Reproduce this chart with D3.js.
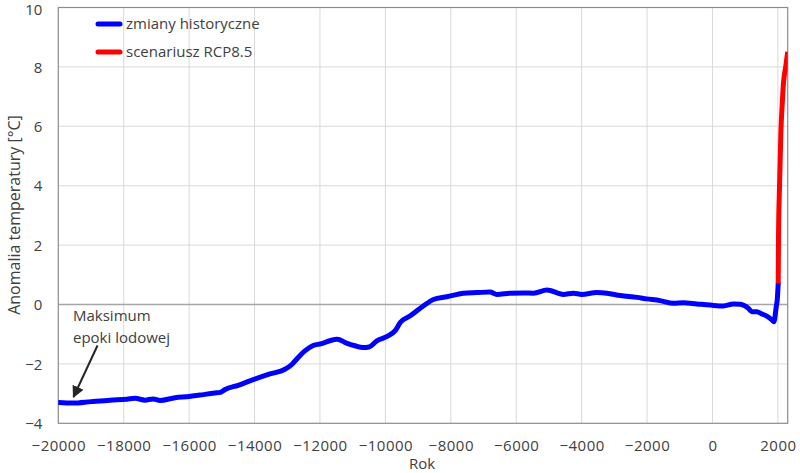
<!DOCTYPE html>
<html><head><meta charset="utf-8">
<script src="https://cdn.jsdelivr.net/npm/d3@7"></script>
<style>body{margin:0;background:#fff}text{font-family:"Open Sans",sans-serif;fill:#404040}</style>
</head><body><svg id="c" width="800" height="473"></svg>
<script>
const histYears = [-20000,-19550,-19000,-18420,-17900,-17650,-17350,-17100,-16890,-16430,-16000,-15670,-15210,-15050,-14900,-14500,-14140,-13530,-13070,-12860,-12720,-12460,-12210,-11950,-11700,-11470,-11190,-10930,-10680,-10500,-10270,-9960,-9700,-9540,-9240,-8830,-8530,-8120,-7610,-7200,-6800,-6590,-6190,-5780,-5470,-5060,-4560,-4250,-4000,-3540,-3230,-2820,-2310,-2010,-1600,-1190,-890,-480,-70,340,640,850,1100,1200,1360,1510,1660,1820,1880,1950,1980,2010];
const histTemps = [-3.30,-3.32,-3.27,-3.22,-3.19,-3.16,-3.22,-3.18,-3.23,-3.14,-3.10,-3.05,-2.98,-2.96,-2.86,-2.72,-2.57,-2.34,-2.18,-2.02,-1.85,-1.56,-1.38,-1.32,-1.22,-1.17,-1.30,-1.39,-1.45,-1.43,-1.23,-1.08,-0.88,-0.60,-0.38,-0.04,0.17,0.26,0.38,0.40,0.42,0.34,0.38,0.39,0.38,0.49,0.34,0.38,0.34,0.40,0.38,0.30,0.24,0.19,0.13,0.04,0.06,0.02,-0.02,-0.05,0.02,0.01,-0.13,-0.24,-0.24,-0.32,-0.39,-0.52,-0.58,-0.07,0.15,0.71];
const rcpYears = [2010,2020,2050,2090,2140,2170,2240,2300];
const rcpTemps = [0.71,2.40,3.97,5.76,6.89,7.45,8.01,8.51];
const xTicks = [-20000,-18000,-16000,-14000,-12000,-10000,-8000,-6000,-4000,-2000,0,2000];
const yTicks = [-4,-2,0,2,4,6,8,10];
const seriesNames = ["zmiany historyczne","scenariusz RCP8.5"];
const seriesColors = ["#0000ff","#ff0000"];

const L=58.3,R=787.7,T=7.5,B=423.3;
const svg=d3.select("#c");
const x=d3.scaleLinear().domain([-20000,2300]).range([L,R]);
const y=d3.scaleLinear().domain([-4,10]).range([B,T]);

// grid
svg.append("g").selectAll("line").data(xTicks.slice(1)).join("line")
 .attr("x1",d=>x(d)).attr("x2",d=>x(d)).attr("y1",T).attr("y2",B)
 .attr("stroke","#d9d9d9").attr("stroke-width",1);
svg.append("g").selectAll("line").data(yTicks.filter(d=>d!==-4&&d!==0)).join("line")
 .attr("x1",L).attr("x2",R).attr("y1",d=>y(d)).attr("y2",d=>y(d))
 .attr("stroke","#d9d9d9").attr("stroke-width",1);
svg.append("line").attr("x1",L).attr("x2",R).attr("y1",y(0)).attr("y2",y(0)).attr("stroke","#a6a6a6").attr("stroke-width",1.3);
svg.append("rect").attr("x",L).attr("y",T).attr("width",R-L).attr("height",B-T).attr("fill","none").attr("stroke","#8c8c8c").attr("stroke-width",1.2);

// axes labels
const xa=d3.axisBottom(x).tickValues(xTicks).tickSize(0).tickPadding(0).tickFormat(d3.format("d"));
const gx=svg.append("g").attr("transform",`translate(0,${B})`).call(xa);
gx.select(".domain").remove();
gx.selectAll("text").attr("y",22).attr("dy","0.35em").style("font-size","15px").style("letter-spacing","0.5px");
const ya=d3.axisLeft(y).tickValues(yTicks).tickSize(0).tickPadding(0);
const gy=svg.append("g").attr("transform",`translate(${L-16},0)`).call(ya);
gy.select(".domain").remove();
gy.selectAll("text").attr("x",0).attr("dy","0.35em").style("font-size","15px");
gy.selectAll(".tick").filter(d=>d===10).select("text").attr("dy","0.45em");

svg.append("text").attr("transform","translate(14,215) rotate(-90)").attr("text-anchor","middle").attr("dy","0.35em").style("font-size","16px").text("Anomalia temperatury [°C]");
svg.append("text").attr("x",422).attr("y",464).attr("text-anchor","middle").attr("dy","0.35em").style("font-size","15px").text("Rok");

// lines
svg.append("clipPath").attr("id","clip").append("rect").attr("x",L).attr("y",T).attr("width",R-L).attr("height",B-T);
const line=d3.line().x(d=>x(d[0])).y(d=>y(d[1])).curve(d3.curveMonotoneX);
const hist=histYears.map((d,i)=>[d,histTemps[i]]);
const rcp=rcpYears.map((d,i)=>[d,rcpTemps[i]]);
const gl=svg.append("g").attr("clip-path","url(#clip)");
gl.append("path").attr("d",line(hist)).attr("fill","none").attr("stroke",seriesColors[0]).attr("stroke-width",5).attr("stroke-linejoin","round").attr("stroke-linecap","round");
gl.append("path").attr("d",line(rcp)).attr("fill","none").attr("stroke",seriesColors[1]).attr("stroke-width",5).attr("stroke-linejoin","round").attr("stroke-linecap","butt");

// legend
const lg=svg.append("g");
seriesNames.forEach((n,i)=>{
  const yy=24+i*28;
  lg.append("line").attr("x1",98).attr("x2",120).attr("y1",yy).attr("y2",yy).attr("stroke",seriesColors[i]).attr("stroke-width",5).attr("stroke-linecap","round");
  lg.append("text").attr("x",126).attr("y",yy).attr("dy","0.35em").style("font-size","15px").text(n);
});

// annotation
svg.append("text").attr("x",73).attr("y",316).attr("dy","0.35em").style("font-size","15px").text("Maksimum");
svg.append("text").attr("x",73).attr("y",338).attr("dy","0.35em").style("font-size","15px").text("epoki lodowej");
svg.append("defs").append("marker").attr("id","ah").attr("viewBox","0 0 10 10").attr("refX",9).attr("refY",5)
 .attr("markerWidth",6).attr("markerHeight",6).attr("orient","auto").attr("markerUnits","strokeWidth")
 .append("path").attr("d","M0,0 L10,5 L0,10 z").attr("fill","#262626");
svg.append("line").attr("x1",97.5).attr("y1",345.5).attr("x2",73.5).attr("y2",397).attr("stroke","#262626").attr("stroke-width",2).attr("marker-end","url(#ah)");
</script></body></html>
